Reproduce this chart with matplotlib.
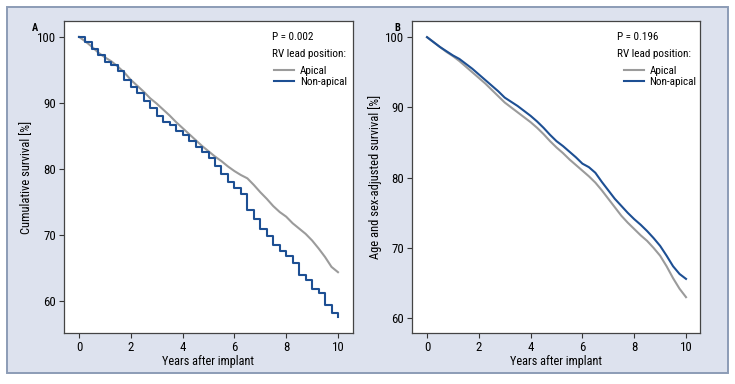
import numpy as np
import matplotlib.pyplot as plt
from matplotlib.patches import Rectangle

plt.rcParams['font.family'] = ['Roboto Condensed', 'DejaVu Sans']

years = [0, 0.25, 0.5, 0.75, 1, 1.25, 1.5, 1.75, 2, 2.25, 2.5, 2.75, 3, 3.25, 3.5, 3.75,
         4, 4.25, 4.5, 4.75, 5, 5.25, 5.5, 5.75, 6, 6.25, 6.5, 6.75, 7, 7.25, 7.5, 7.75,
         8, 8.25, 8.5, 8.75, 9, 9.25, 9.5, 9.75, 10]

# panel A - cumulative survival
a_apical = [100, 99.3, 98.5, 97.6, 96.9, 96.3, 95.5, 94.6, 93.5, 92.6, 91.7, 90.7, 89.9, 89.0,
            88.1, 87.1, 86.2, 85.3, 84.4, 83.5, 82.7, 81.9, 81.2, 80.4, 79.7, 79.1, 78.6, 77.6,
            76.5, 75.5, 74.4, 73.5, 72.8, 71.8, 71.0, 70.2, 69.2, 68.0, 66.7, 65.2, 64.4]
a_nonapical = [100, 99.2, 98.2, 97.3, 96.2, 95.7, 94.8, 93.5, 92.4, 91.5, 90.3, 89.2, 88.0, 87.1,
               86.6, 85.8, 85.2, 84.3, 83.4, 82.6, 81.7, 80.5, 79.2, 78.0, 77.2, 76.2, 73.8, 72.5,
               71.0, 69.8, 68.5, 67.6, 66.9, 65.8, 64.0, 63.2, 61.8, 61.3, 59.5, 58.2, 57.6]

# panel B - age and sex-adjusted survival
b_apical = [100, 99.3, 98.6, 97.9, 97.3, 96.6, 95.8, 95.0, 94.2, 93.4, 92.5, 91.6, 90.7, 90.0,
            89.3, 88.6, 87.9, 87.1, 86.2, 85.2, 84.3, 83.5, 82.6, 81.8, 81.0, 80.2, 79.3, 78.2,
            77.0, 75.8, 74.6, 73.6, 72.7, 71.8, 71.0, 70.0, 68.9, 67.4, 65.7, 64.2, 63.0]
b_nonapical = [100, 99.3, 98.6, 98.0, 97.4, 96.9, 96.2, 95.5, 94.7, 93.9, 93.1, 92.3, 91.4, 90.8,
               90.2, 89.5, 88.8, 88.0, 87.1, 86.1, 85.2, 84.5, 83.7, 82.9, 82.0, 81.5, 80.7, 79.4,
               78.2, 77.0, 76.0, 75.0, 74.1, 73.3, 72.4, 71.4, 70.3, 68.9, 67.4, 66.3, 65.6]

gray = '#9b9b9b'
blue = '#1d4f93'

W, H = 735, 384
fig = plt.figure(figsize=(W/100, H/100), dpi=100)
bg = Rectangle((7/W, 1 - 373/H), 721/W, 366/H, transform=fig.transFigure,
               facecolor='#dde2ee', edgecolor='#8c9cb6', linewidth=1.4, zorder=-10)
fig.patches.append(bg)

axA = fig.add_axes([64/W, 1 - 333/H, (353-64)/W, (333-21)/H])
axB = fig.add_axes([412/W, 1 - 333/H, (700-412)/W, (333-21)/H])

axA.plot(years, a_apical, color=gray, lw=1.5, label='Apical')
axA.plot(years, a_nonapical, color=blue, lw=1.5, drawstyle='steps-post', label='Non-apical')
axA.set_xlim(-0.58, 10.58)
axA.set_ylim(55.2, 102.4)
axA.set_ylabel('Cumulative survival [%]', fontsize=9)
axA.yaxis.set_label_coords(-0.107, 0.5)
axA.text(-0.1, 0.979, 'A', transform=axA.transAxes, fontsize=7.5, fontweight='bold', va='center', ha='center')
axA.text(0.72, 0.949, 'P = 0.002', transform=axA.transAxes, fontsize=8, va='center')
axA.text(0.72, 0.894, 'RV lead position:', transform=axA.transAxes, fontsize=8, va='center')
axA.legend(loc='center left', bbox_to_anchor=(0.727, 0.822), frameon=False, fontsize=8,
           handlelength=1.8, handletextpad=0.5, labelspacing=0.1, borderpad=0, borderaxespad=0)

axB.plot(years, b_apical, color=gray, lw=1.5, label='Apical')
axB.plot(years, b_nonapical, color=blue, lw=1.5, label='Non-apical')
axB.set_xlim(-0.58, 10.54)
axB.set_ylim(57.9, 102.3)
axB.set_ylabel('Age and sex-adjusted survival [%]', fontsize=9)
axB.yaxis.set_label_coords(-0.104, 0.5)
axB.text(-0.052, 0.979, 'B', transform=axB.transAxes, fontsize=7.5, fontweight='bold', va='center', ha='center')
axB.text(0.713, 0.949, 'P = 0.196', transform=axB.transAxes, fontsize=8, va='center')
axB.text(0.713, 0.894, 'RV lead position:', transform=axB.transAxes, fontsize=8, va='center')
axB.legend(loc='center left', bbox_to_anchor=(0.736, 0.822), frameon=False, fontsize=8,
           handlelength=1.8, handletextpad=0.5, labelspacing=0.1, borderpad=0, borderaxespad=0)

for ax in (axA, axB):
    ax.set_facecolor('white')
    ax.set_xticks([0, 2, 4, 6, 8, 10])
    ax.set_yticks([60, 70, 80, 90, 100])
    ax.set_xlabel('Years after implant', fontsize=8.8)
    ax.xaxis.set_label_coords(0.5, -0.072)
    ax.tick_params(labelsize=9.3, length=3.5, width=0.8, pad=2, color='#333333')
    for s in ax.spines.values():
        s.set_color('#444444')
        s.set_linewidth(0.9)

fig.savefig('out.png', dpi=100)
